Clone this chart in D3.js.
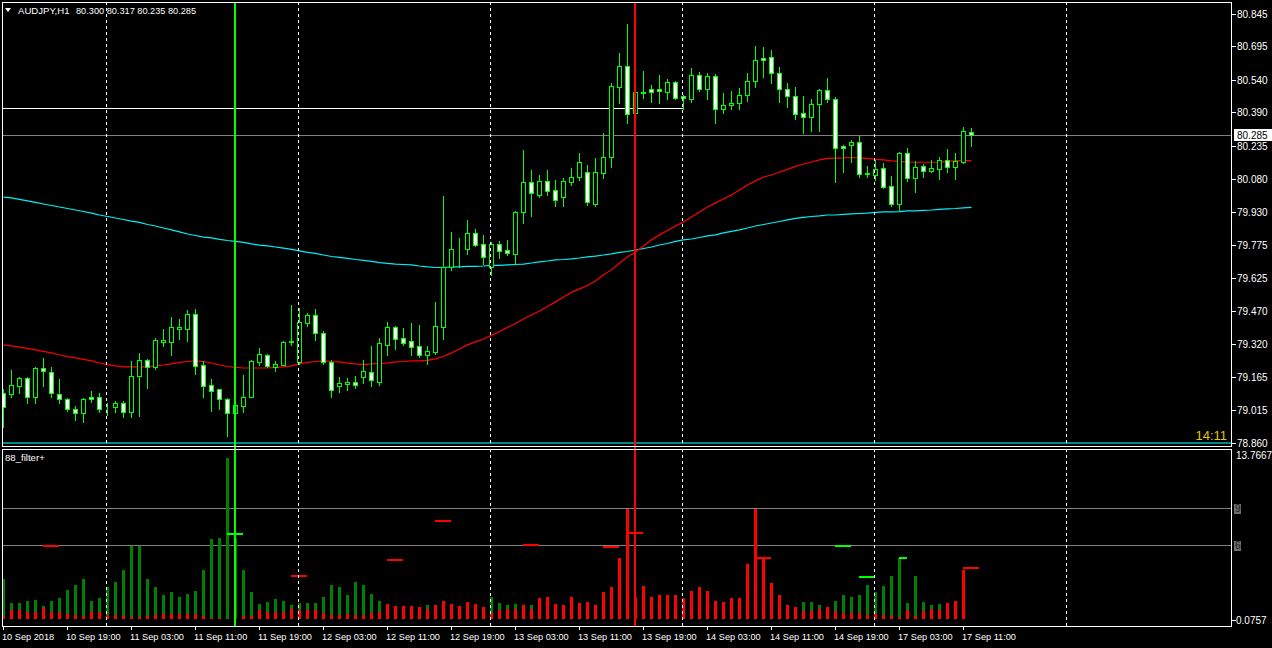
<!DOCTYPE html>
<html>
<head>
<meta charset="utf-8">
<script src="https://cdn.jsdelivr.net/npm/d3@7/dist/d3.min.js"></script>
<style>
  html, body { margin: 0; padding: 0; background: #000; }
  svg { display: block; font-family: "Liberation Sans", Arial, sans-serif; }
</style>
</head>
<body>
<div id="chart-area"></div>
<script>
// AUDJPY H1 candles, 10 Sep 11:00 .. 17 Sep 12:00 (one bar per hour, weekend skipped)
const openP = [79.092,79.087,79.124,79.161,79.073,79.207,79.189,79.087,79.064,79.018,
  78.999,79.073,79.073,79.022,79.027,79.045,79.004,79.170,79.244,79.212,
  79.328,79.328,79.388,79.388,79.457,79.221,79.129,79.110,79.064,78.999,
  79.031,79.073,79.235,79.267,79.212,79.221,79.328,79.235,79.415,79.452,
  79.369,79.235,79.124,79.133,79.143,79.166,79.189,79.143,79.314,79.397,
  79.346,79.332,79.309,79.267,79.281,79.397,79.675,79.758,79.758,79.832,
  79.781,79.675,79.781,79.753,79.735,79.929,80.068,80.008,80.073,80.031,
  79.998,80.068,80.091,80.114,79.966,80.110,80.184,80.507,80.605,80.387,
  80.480,80.498,80.498,80.484,80.531,80.466,80.452,80.563,80.498,80.558,
  80.406,80.424,80.433,80.470,80.535,80.642,80.646,80.572,80.498,80.466,
  80.387,80.369,80.429,80.494,80.452,80.234,80.239,80.253,80.105,80.100,
  80.133,80.049,79.966,80.202,80.086,80.142,80.119,80.128,80.170,80.137,
  80.160,80.300]
const highP = [79.110,79.198,79.166,79.165,79.210,79.254,79.212,79.156,79.068,79.031,
  79.068,79.101,79.092,79.045,79.054,79.054,79.240,79.277,79.247,79.346,
  79.388,79.443,79.434,79.476,79.480,79.240,79.156,79.112,79.066,79.045,
  79.175,79.244,79.300,79.272,79.240,79.330,79.499,79.485,79.462,79.480,
  79.378,79.244,79.166,79.161,79.170,79.244,79.309,79.346,79.420,79.402,
  79.392,79.415,79.406,79.309,79.513,80.003,79.837,79.809,79.892,79.850,
  79.823,79.790,79.795,79.800,79.934,80.216,80.123,80.100,80.123,80.077,
  80.086,80.133,80.202,80.147,80.179,80.295,80.526,80.665,80.799,80.517,
  80.581,80.517,80.563,80.544,80.534,80.470,80.595,80.577,80.572,80.568,
  80.480,80.489,80.503,80.572,80.697,80.693,80.679,80.600,80.526,80.507,
  80.466,80.452,80.498,80.549,80.461,80.239,80.262,80.281,80.142,80.170,
  80.156,80.096,80.207,80.225,80.165,80.151,80.170,80.184,80.221,80.202,
  80.322,80.317]
const lowP = [78.934,79.073,79.092,79.045,79.045,79.124,79.073,79.045,79.008,78.967,
  78.957,79.050,79.004,78.990,79.004,78.981,78.981,78.985,79.115,79.203,
  79.309,79.267,79.341,79.332,79.180,79.073,79.008,79.018,78.893,78.985,
  79.004,79.071,79.221,79.212,79.193,79.219,79.314,79.226,79.402,79.337,
  79.226,79.073,79.096,79.105,79.115,79.138,79.124,79.129,79.267,79.295,
  79.314,79.267,79.258,79.226,79.272,79.341,79.661,79.675,79.735,79.772,
  79.688,79.638,79.716,79.730,79.688,79.878,79.911,79.998,80.008,79.957,
  79.957,80.054,80.077,79.961,79.957,80.086,80.137,80.433,80.341,80.355,
  80.457,80.438,80.433,80.452,80.452,80.406,80.438,80.489,80.452,80.341,
  80.387,80.406,80.406,80.443,80.507,80.554,80.526,80.438,80.415,80.359,
  80.295,80.304,80.304,80.438,80.068,80.114,80.160,80.091,80.091,80.077,
  80.040,79.957,79.938,80.073,80.022,80.091,80.114,80.082,80.114,80.082,
  80.156,80.235]
const closeP = [79.027,79.129,79.161,79.073,79.207,79.193,79.092,79.064,79.018,78.999,
  79.064,79.064,79.018,79.021,79.045,79.004,79.170,79.244,79.212,79.337,
  79.337,79.397,79.397,79.457,79.217,79.124,79.101,79.064,78.999,79.036,
  79.073,79.240,79.272,79.214,79.226,79.328,79.332,79.420,79.452,79.369,
  79.235,79.105,79.138,79.143,79.129,79.193,79.152,79.323,79.397,79.341,
  79.323,79.304,79.267,79.286,79.402,79.675,79.758,79.757,79.832,79.776,
  79.721,79.781,79.749,79.739,79.929,80.068,80.017,80.073,80.026,79.985,
  80.073,80.091,80.160,79.975,80.114,80.184,80.512,80.605,80.383,80.484,
  80.484,80.484,80.489,80.531,80.457,80.457,80.563,80.498,80.558,80.406,
  80.424,80.433,80.470,80.535,80.632,80.632,80.572,80.498,80.466,80.383,
  80.369,80.429,80.494,80.452,80.225,80.225,80.253,80.105,80.110,80.128,
  80.045,79.966,80.202,80.086,80.137,80.119,80.133,80.170,80.137,80.165,
  80.304,80.285]

// moving averages
const maFast = [79.314,79.309,79.304,79.298,79.291,79.284,79.277,79.267,79.260,79.254,
  79.247,79.240,79.230,79.223,79.217,79.212,79.212,79.212,79.212,79.217,
  79.221,79.226,79.233,79.237,79.240,79.237,79.230,79.221,79.214,79.210,
  79.207,79.207,79.207,79.207,79.210,79.212,79.217,79.226,79.233,79.237,
  79.240,79.237,79.235,79.230,79.226,79.223,79.226,79.228,79.230,79.235,
  79.237,79.240,79.240,79.242,79.249,79.260,79.277,79.295,79.314,79.328,
  79.341,79.358,79.376,79.395,79.413,79.434,79.452,79.471,79.492,79.513,
  79.536,79.557,79.573,79.589,79.610,79.638,79.661,79.693,79.721,79.744,
  79.772,79.800,79.823,79.843,79.864,79.883,79.906,79.929,79.952,79.971,
  79.989,80.008,80.031,80.054,80.073,80.091,80.100,80.114,80.126,80.140,
  80.151,80.160,80.170,80.177,80.178,80.179,80.181,80.179,80.177,80.172,
  80.170,80.165,80.163,80.160,80.159,80.159,80.159,80.160,80.163,80.165,
  80.167,80.167]
const maSlow = [79.998,79.994,79.987,79.980,79.973,79.966,79.959,79.952,79.945,79.938,
  79.931,79.924,79.915,79.908,79.901,79.894,79.887,79.881,79.871,79.864,
  79.855,79.846,79.837,79.827,79.820,79.813,79.809,79.802,79.797,79.793,
  79.788,79.781,79.776,79.772,79.767,79.762,79.756,79.749,79.742,79.737,
  79.730,79.723,79.719,79.714,79.709,79.705,79.700,79.695,79.691,79.688,
  79.686,79.684,79.679,79.675,79.672,79.672,79.675,79.675,79.677,79.677,
  79.679,79.682,79.682,79.684,79.686,79.688,79.693,79.698,79.702,79.707,
  79.709,79.712,79.716,79.721,79.725,79.730,79.735,79.742,79.746,79.753,
  79.760,79.767,79.776,79.783,79.793,79.800,79.804,79.811,79.818,79.823,
  79.832,79.839,79.846,79.855,79.864,79.871,79.878,79.885,79.892,79.899,
  79.904,79.908,79.911,79.915,79.915,79.918,79.920,79.922,79.924,79.927,
  79.929,79.929,79.931,79.934,79.934,79.936,79.938,79.941,79.943,79.945,
  79.948,79.950]

// 88_filter+ histogram
const filterUp = [3.24,1.30,1.30,1.46,1.54,1.05,1.46,1.70,2.35,2.76,
  3.24,1.46,1.70,2.59,3.00,3.97,5.95,5.95,3.24,2.59,
  1.95,2.19,1.78,2.03,2.27,3.97,6.49,6.57,13.05,6.57,
  3.97,2.19,1.22,1.38,1.62,1.46,1.14,1.30,1.30,1.30,
  1.78,2.76,2.59,1.95,3.00,2.76,2.03,1.46,0,0,
  0,0,0,1.14,0,0,0,0,0,0,
  0,1.78,1.30,1.14,1.22,0,1.14,0,0,0,
  0,0,0,0,0,0,0,0,0,0,
  0,0,0,0,0,0,0,0,0,0,
  0,0,0,0,0,0,0,0,0,0,
  1.38,1.38,1.14,0,1.46,1.95,1.78,1.95,2.76,2.19,
  2.68,3.49,4.95,1.30,3.49,1.38,1.14,1.22,0,0,
  0,0]
const filterDown = [0.27,0.76,0.76,0.62,0.57,0.89,0.62,0.57,0.41,0.32,
  0.27,0.62,0.57,0.32,0.32,0.27,0.16,0.16,0.27,0.32,
  0.46,0.46,0.46,0.46,0.41,0.27,0.11,0.11,0.05,0.11,
  0.27,0.27,0.76,0.62,0.62,0.62,0.81,0.76,0.76,0.76,
  0.49,0.32,0.32,0.46,0.32,0.32,0.51,0.62,1.22,1.05,
  1.05,1.05,0.97,0.81,1.14,1.46,1.22,1.05,1.38,1.22,
  0.97,0.49,0.76,0.81,0.81,1.14,0.81,1.70,1.78,1.22,
  1.14,1.78,1.30,1.38,1.14,2.19,2.59,4.95,8.92,1.78,
  2.68,1.78,1.95,1.95,1.95,1.70,2.27,2.59,2.27,1.46,
  1.38,1.70,1.70,4.46,8.92,4.95,2.92,1.95,1.14,0.97,
  0.65,0.65,0.81,0.97,0.65,0.49,0.49,0.49,0.32,0.43,
  0.32,0.24,0.16,0.76,0.24,0.65,0.81,0.76,1.30,1.46,
  3.97,0]
const signalBars = [5, 28, 36, 48, 54, 65, 75, 78, 94, 104, 107, 112, 120]
const signalValues = [5.92, 6.95, 3.54, 4.77, 7.96, 6.06, 5.85, 7.03, 4.97, 5.92, 3.41, 5.00, 4.12]
const signalSide = ["dn", "up", "dn", "dn", "dn", "dn", "dn", "dn", "dn", "up", "up", "up", "dn"]
const filterLevels = [9, 6]

const priceTicks = [80.845, 80.695, 80.540, 80.390, 80.235, 80.080, 79.930, 79.775, 79.625, 79.470, 79.320, 79.165, 79.015, 78.860]
const timeLabelBars = [0, 8, 16, 24, 32, 40, 48, 56, 64, 72, 80, 88, 96, 104, 112, 120]
const timeLabels = ["10 Sep 2018", "10 Sep 19:00", "11 Sep 03:00", "11 Sep 11:00", "11 Sep 19:00", "12 Sep 03:00",
  "12 Sep 11:00", "12 Sep 19:00", "13 Sep 03:00", "13 Sep 11:00", "13 Sep 19:00", "14 Sep 03:00",
  "14 Sep 11:00", "14 Sep 19:00", "17 Sep 03:00", "17 Sep 11:00"]
const daySeparatorBars = [13, 37, 61, 85, 109, 133]
const vLineUpBar = 29
const vLineDownBar = 79
const hLinePrice = 80.410
const hLineEndBar = 85
const baseLinePrice = 78.861
const lastPrice = 80.285

// layout
const W = 1272, H = 648
const P = { LEFT: 2, RIGHT: 1231, TOP: 2, MAIN_BOTTOM: 446, IND_TOP: 449, IND_BOTTOM: 626 }

const svg = d3.select("#chart-area").append("svg")
  .attr("width", W)
  .attr("height", H)

svg.append("rect").attr("width", W).attr("height", H).attr("fill", "#000")

const x = d3.scaleLinear().domain([0, 121]).range([3, 971])
const y = d3.scaleLinear().domain([78.860, 80.845]).range([443, 14])
const yi = d3.scaleLinear().domain([0, 13.7667]).range([619.3, 449.5])

const px = i => Math.round(x(i))

// main pane clip
svg.append("clipPath").attr("id", "mainClip").append("rect")
  .attr("x", P.LEFT).attr("y", P.TOP).attr("width", P.RIGHT - P.LEFT).attr("height", P.MAIN_BOTTOM - P.TOP)

const g = svg.append("g").attr("clip-path", "url(#mainClip)")
const gi = svg.append("g")

// day separators (dashed), across both panes
;[[P.TOP, P.MAIN_BOTTOM], [P.IND_TOP, P.IND_BOTTOM]].forEach(([t, b]) => {
  svg.append("g").selectAll("line").data(daySeparatorBars).enter().append("line")
    .attr("x1", d => px(d) - 0.5).attr("x2", d => px(d) - 0.5)
    .attr("y1", t).attr("y2", b)
    .attr("stroke", "#fff").attr("stroke-dasharray", "3,3")
    .attr("shape-rendering", "crispEdges")
})

// baseline (teal) and horizontal line
g.append("line")
  .attr("x1", P.LEFT).attr("x2", P.RIGHT)
  .attr("y1", y(baseLinePrice)).attr("y2", y(baseLinePrice))
  .attr("stroke", "#008b8b").attr("stroke-width", 2)
  .attr("shape-rendering", "crispEdges")

g.append("line")
  .attr("x1", P.LEFT).attr("x2", px(hLineEndBar))
  .attr("y1", Math.round(y(hLinePrice)) + 0.5).attr("y2", Math.round(y(hLinePrice)) + 0.5)
  .attr("stroke", "#fff").attr("shape-rendering", "crispEdges")

// last price line
g.append("line")
  .attr("x1", P.LEFT).attr("x2", P.RIGHT)
  .attr("y1", Math.round(y(lastPrice)) + 0.5).attr("y2", Math.round(y(lastPrice)) + 0.5)
  .attr("stroke", "#808080").attr("shape-rendering", "crispEdges")

// moving averages
const maLine = d3.line().x((d, i) => px(i) + 0.5).y(d => y(d))
g.append("path").datum(maSlow).attr("d", maLine)
  .attr("fill", "none").attr("stroke", "#00f0f8").attr("stroke-width", 1.2)
g.append("path").datum(maFast).attr("d", maLine)
  .attr("fill", "none").attr("stroke", "#ff0000").attr("stroke-width", 1.2)

// candles
const bars = d3.range(openP.length)
const candles = g.append("g").attr("shape-rendering", "crispEdges")
candles.selectAll("line.wick").data(bars).enter().append("line")
  .attr("class", "wick")
  .attr("x1", i => px(i) + 0.5).attr("x2", i => px(i) + 0.5)
  .attr("y1", i => Math.round(y(highP[i]))).attr("y2", i => Math.round(y(lowP[i])) + 1)
  .attr("stroke", "#00ff00")

candles.selectAll("rect.body").data(bars).enter().append("rect")
  .attr("class", "body")
  .attr("x", i => px(i) - 1.5)
  .attr("width", 4)
  .attr("y", i => Math.round(y(Math.max(openP[i], closeP[i]))) + 0.5)
  .attr("height", i => Math.max(0, Math.round(y(Math.min(openP[i], closeP[i]))) - Math.round(y(Math.max(openP[i], closeP[i])))))
  .attr("fill", i => closeP[i] > openP[i] ? "#000" : "#fff")
  .attr("stroke", "#00ff00")

// vertical lines across both panes
svg.append("line")
  .attr("x1", px(vLineUpBar)).attr("x2", px(vLineUpBar))
  .attr("y1", P.TOP).attr("y2", P.IND_BOTTOM)
  .attr("stroke", "#00ff00").attr("stroke-width", 2).attr("shape-rendering", "crispEdges")
svg.append("line")
  .attr("x1", px(vLineDownBar)).attr("x2", px(vLineDownBar))
  .attr("y1", P.TOP).attr("y2", P.IND_BOTTOM)
  .attr("stroke", "#ff0000").attr("stroke-width", 2).attr("shape-rendering", "crispEdges")

// indicator pane: levels
gi.selectAll("line.level").data(filterLevels).enter().append("line")
  .attr("x1", P.LEFT).attr("x2", P.RIGHT)
  .attr("y1", d => Math.round(yi(d)) + 0.5).attr("y2", d => Math.round(yi(d)) + 0.5)
  .attr("stroke", "#808080").attr("shape-rendering", "crispEdges")

// histogram
gi.selectAll("rect.up").data(bars.filter(i => filterUp[i] > 0)).enter().append("rect")
  .attr("x", i => px(i) - 1).attr("width", 3)
  .attr("y", i => yi(filterUp[i])).attr("height", i => yi(0) - yi(filterUp[i]))
  .attr("fill", "#008000").attr("shape-rendering", "crispEdges")
gi.selectAll("rect.dn").data(bars.filter(i => filterDown[i] > 0)).enter().append("rect")
  .attr("x", i => px(i) - 1).attr("width", 3)
  .attr("y", i => yi(filterDown[i])).attr("height", i => yi(0) - yi(filterDown[i]))
  .attr("fill", "#ff0000").attr("shape-rendering", "crispEdges")

gi.selectAll("line.sig").data(signalBars).enter().append("line")
  .attr("x1", d => px(d)).attr("x2", (d, k) => px(d) + (d === 112 ? 8 : 16))
  .attr("y1", (d, k) => yi(signalValues[k])).attr("y2", (d, k) => yi(signalValues[k]))
  .attr("stroke", (d, k) => signalSide[k] === "up" ? "#00ff00" : "#ff0000")
  .attr("stroke-width", 2).attr("shape-rendering", "crispEdges")

// pane borders
svg.append("rect").attr("x", P.LEFT + 0.5).attr("y", P.TOP + 0.5)
  .attr("width", P.RIGHT - P.LEFT).attr("height", P.MAIN_BOTTOM - P.TOP)
  .attr("fill", "none").attr("stroke", "#fff").attr("shape-rendering", "crispEdges")
svg.append("rect").attr("x", P.LEFT + 0.5).attr("y", P.IND_TOP + 0.5)
  .attr("width", P.RIGHT - P.LEFT).attr("height", P.IND_BOTTOM - P.IND_TOP)
  .attr("fill", "none").attr("stroke", "#fff").attr("shape-rendering", "crispEdges")

// price axis
const yAxis = svg.append("g").attr("font-size", 10).attr("fill", "#fff")
yAxis.selectAll("line").data(priceTicks).enter().append("line")
  .attr("x1", P.RIGHT + 0.5).attr("x2", P.RIGHT + 4.5)
  .attr("y1", d => Math.round(y(d)) + 0.5).attr("y2", d => Math.round(y(d)) + 0.5)
  .attr("stroke", "#fff").attr("shape-rendering", "crispEdges")
yAxis.selectAll("text").data(priceTicks).enter().append("text")
  .attr("x", P.RIGHT + 6).attr("y", d => y(d) + 4)
  .text(d => d.toFixed(3))

// last price label
const lpY = Math.round(y(lastPrice))
svg.append("rect").attr("x", P.RIGHT + 3).attr("y", lpY - 6).attr("width", 38).attr("height", 12).attr("fill", "#fff")
svg.append("text").attr("x", P.RIGHT + 6).attr("y", lpY + 4)
  .attr("font-size", 10).attr("fill", "#000").text(lastPrice.toFixed(3))

// indicator axis
svg.append("text").attr("x", P.RIGHT + 5).attr("y", 459).attr("font-size", 10).attr("fill", "#fff").text("13.7667")
filterLevels.forEach(v => {
  const ly = Math.round(yi(v))
  svg.append("rect").attr("x", P.RIGHT + 3).attr("y", ly - 4).attr("width", 7).attr("height", 10).attr("fill", "#6e6e6e")
  svg.append("text").attr("x", P.RIGHT + 4).attr("y", ly + 4).attr("font-size", 10).attr("fill", "#1a1a1a").text(v)
})
svg.append("line").attr("x1", P.RIGHT + 0.5).attr("x2", P.RIGHT + 4.5)
  .attr("y1", 620.5).attr("y2", 620.5).attr("stroke", "#fff").attr("shape-rendering", "crispEdges")
svg.append("text").attr("x", P.RIGHT + 5).attr("y", 624).attr("font-size", 10).attr("fill", "#fff").text("0.0757")

// time axis
const xAxis = svg.append("g").attr("font-size", 9.2).attr("fill", "#fff")
xAxis.selectAll("line").data(timeLabelBars).enter().append("line")
  .attr("x1", d => px(d) + 0.5).attr("x2", d => px(d) + 0.5)
  .attr("y1", P.IND_BOTTOM).attr("y2", P.IND_BOTTOM + 4)
  .attr("stroke", "#fff").attr("shape-rendering", "crispEdges")
xAxis.selectAll("text").data(timeLabelBars).enter().append("text")
  .attr("x", d => px(d) - 1).attr("y", 640)
  .text((d, k) => timeLabels[k])

// titles
svg.append("path").attr("d", "M5,8 L11,8 L8,12 Z").attr("fill", "#fff")
svg.append("text").attr("x", 18).attr("y", 14).attr("font-size", 9.6).attr("fill", "#fff").text("AUDJPY,H1")
svg.append("text").attr("x", 76).attr("y", 14).attr("font-size", 9.2).attr("fill", "#fff")
  .text("80.300 80.317 80.235 80.285")
svg.append("text").attr("x", 5).attr("y", 461).attr("font-size", 9.6).attr("fill", "#fff").text("88_filter+")
svg.append("text").attr("x", P.RIGHT - 4).attr("y", 440).attr("font-size", 13)
  .attr("text-anchor", "end").attr("fill", "#e6c800").text("14:11")
</script>
</body>
</html>
